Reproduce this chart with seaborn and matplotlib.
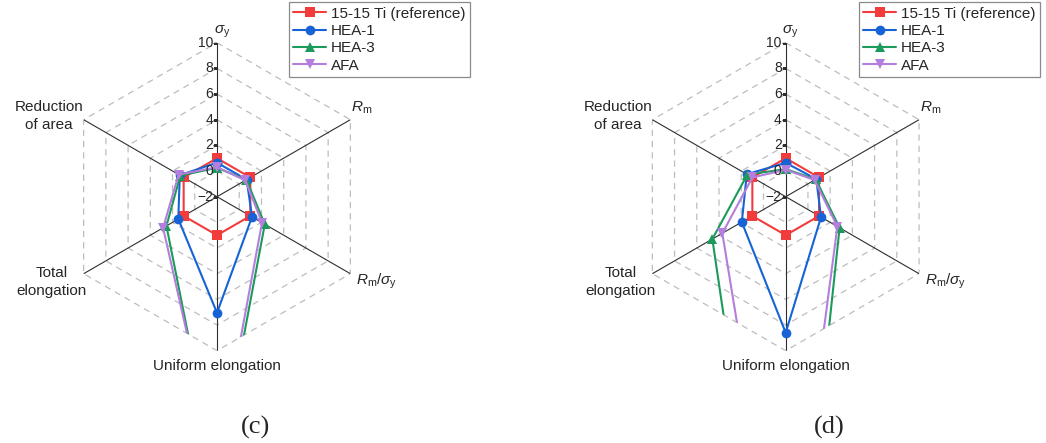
import numpy as np
import pandas as pd
import matplotlib
matplotlib.use('Agg')
import matplotlib.pyplot as plt
from matplotlib.patches import Polygon
from matplotlib.transforms import offset_copy
import seaborn as sns

# spoke order: clockwise starting from the top
axis_names = [r'$\sigma_\mathrm{y}$', r'$R_\mathrm{m}$', r'$R_\mathrm{m}/\sigma_\mathrm{y}$',
              'Uniform elongation', 'Total\nelongation', 'Reduction\nof area']
alloys = ['15-15 Ti (reference)', 'HEA-1', 'HEA-3', 'AFA']
r_ticks = [-2, 0, 2, 4, 6, 8, 10]

# panel (c)
c_ref = [1, 1, 1, 1, 1, 1]
c_hea1 = [0.65, 0.67, 1.15, 7.05, 1.48, 1.35]
c_hea3 = [0.25, 0.65, 2.3, 20, 2.55, 1.3]
c_afa = [0.3, 0.55, 2.05, 19, 2.85, 1.45]

# panel (d)
d_ref = [1, 1, 1, 1, 1, 1]
d_hea1 = [0.64, 0.75, 1.18, 8.6, 1.95, 1.5]
d_hea3 = [0.15, 0.7, 2.85, 40, 4.6, 1.45]
d_afa = [0.1, 0.6, 2.65, 31, 3.7, 1.0]

palette = {'15-15 Ti (reference)': '#F23B3B', 'HEA-1': '#1763D6',
           'HEA-3': '#1C9A5B', 'AFA': '#B47EDD'}
markers = {'15-15 Ti (reference)': 's', 'HEA-1': 'o', 'HEA-3': '^', 'AFA': 'v'}

sns.set_style('white')
plt.rcParams['font.family'] = ['Liberation Sans', 'DejaVu Sans']
plt.rcParams['mathtext.fontset'] = 'custom'
plt.rcParams['mathtext.rm'] = 'Liberation Sans'
plt.rcParams['mathtext.it'] = 'Liberation Sans:italic'

W, H = 1046, 443
fig = plt.figure(figsize=(W / 100, H / 100), dpi=100)

theta = np.deg2rad(np.arange(0, 360, 60))
theta_closed = np.append(theta, 2 * np.pi)

# label placement relative to each outer vertex: (dx px, dy px, ha, va)
label_pos = [(5, 3, 'center', 'bottom'), (1, 4, 'left', 'bottom'), (6, -8, 'left', 'center'),
             (0, -8, 'center', 'top'), (3, -8, 'right', 'center'), (0, 4, 'right', 'center')]


def radar(ax, series, legend_x):
    rows = []
    for name, vals in zip(alloys, series):
        for t, v in zip(theta_closed, list(vals) + [vals[0]]):
            rows.append((name, t, v))
    df = pd.DataFrame(rows, columns=['alloy', 'theta', 'r'])

    ax.set_theta_zero_location('N')
    ax.set_theta_direction(-1)
    ax.grid(False)
    ax.spines['polar'].set_visible(False)
    ax.set_xticks([])
    ax.set_yticks([])

    # hexagonal dashed grid + solid spokes
    for r in r_ticks[1:]:
        ax.plot(theta_closed, [r] * len(theta_closed), color='#bdbdbd', lw=0.9,
                ls=(0, (5, 4)), zorder=1)
    for t in theta:
        ax.plot([t, t], [-2, 10], color='#2e2e2e', lw=0.8, zorder=1.5)
    ax.plot(np.zeros(len(r_ticks)), r_ticks, ls='none', marker=0, markersize=3,
            color='#2e2e2e', mew=0.8, zorder=1.5)

    n0 = len(ax.lines)
    sns.lineplot(data=df, x='theta', y='r', hue='alloy', style='alloy',
                 hue_order=alloys, style_order=alloys, palette=palette,
                 markers=markers, dashes=False, sort=False, estimator=None,
                 markersize=7, markeredgewidth=0, linewidth=1.5, legend=False,
                 ax=ax, zorder=3)
    ax.set_ylim(-2, 10)
    ax.set_xlabel('')
    ax.set_ylabel('')

    # clip the series to the outer hexagon
    clip = Polygon([(0.5 + 0.5 * np.sin(t), 0.5 + 0.5 * np.cos(t)) for t in theta],
                   closed=True, transform=ax.transAxes)
    series_lines = ax.lines[n0:]
    for ln in series_lines:
        ln.set_clip_path(clip)

    for r in r_ticks:
        ax.text(0, r, str(r).replace('-', '\u2212'), fontsize=10, ha='right', va='center',
                transform=offset_copy(ax.transData, fig=fig, x=-4, y=0, units='dots'))

    for t, name, (dx, dy, ha, va) in zip(theta, axis_names, label_pos):
        ax.text(t, 10, name, fontsize=11, ha=ha, va=va, multialignment='center',
                linespacing=1.35,
                transform=offset_copy(ax.transData, fig=fig, x=dx, y=dy, units='dots'))

    leg = ax.legend(series_lines, alloys, loc='upper right',
                    bbox_to_anchor=(legend_x / W, 1 - 2 / H), bbox_transform=fig.transFigure,
                    fontsize=11, frameon=True, fancybox=False, framealpha=1,
                    edgecolor='#8a8a8a', borderpad=0.3, labelspacing=0.22,
                    handlelength=2.1, handletextpad=0.35, borderaxespad=0)
    leg.get_frame().set_linewidth(0.9)


R = 154
ax_c = fig.add_axes([(217 - R) / W, (H - 196.7 - R) / H, 2 * R / W, 2 * R / H], projection='polar')
radar(ax_c, [c_ref, c_hea1, c_hea3, c_afa], 470)

ax_d = fig.add_axes([(785.7 - R) / W, (H - 196.7 - R) / H, 2 * R / W, 2 * R / H], projection='polar')
radar(ax_d, [d_ref, d_hea1, d_hea3, d_afa], 1040)

fig.text(255 / W, 1 - 427 / H, '(c)', fontsize=19, family='Liberation Serif', ha='center', va='center')
fig.text(829 / W, 1 - 427 / H, '(d)', fontsize=19, family='Liberation Serif', ha='center', va='center')

fig.savefig('out.png', dpi=100)
